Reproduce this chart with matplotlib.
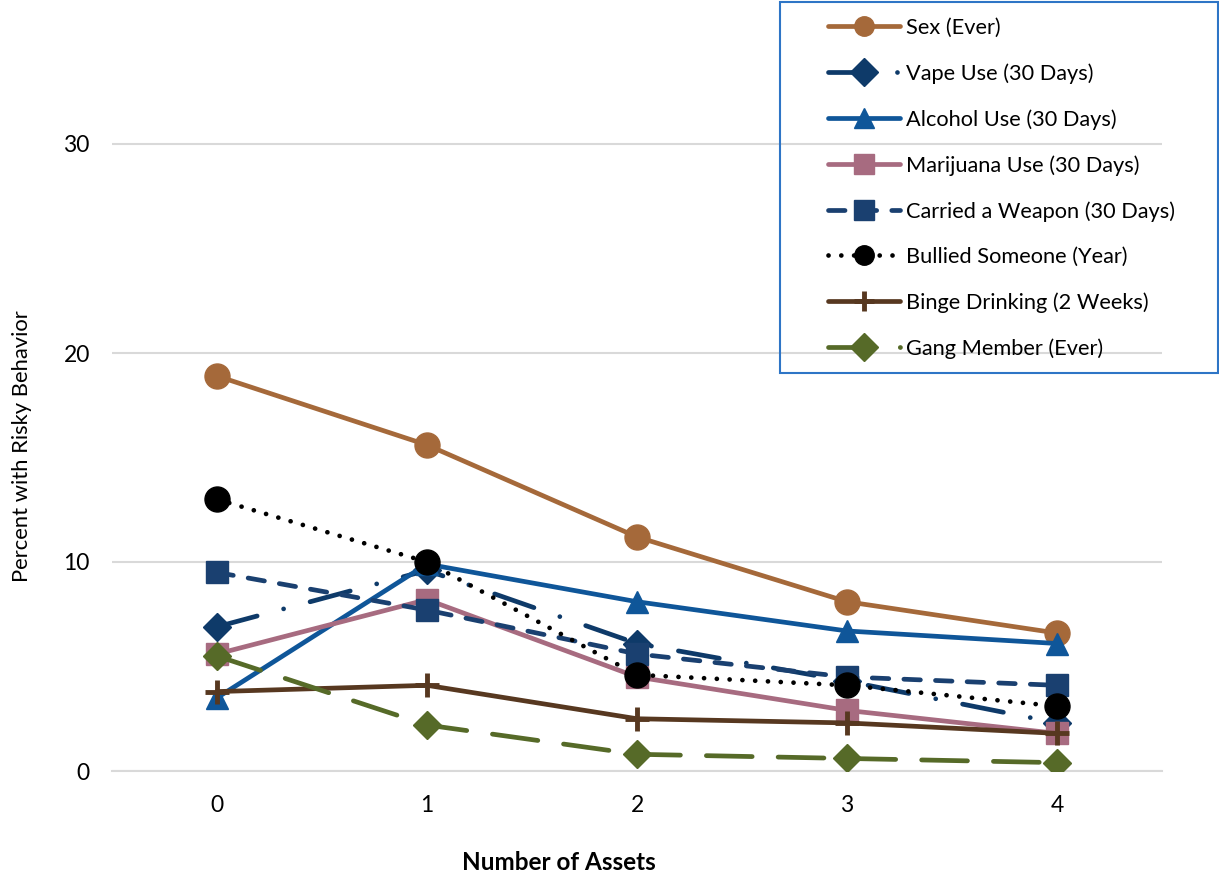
import matplotlib
matplotlib.use("Agg")
import matplotlib.pyplot as plt
from matplotlib.patches import Rectangle

plt.rcParams['font.family'] = ['Lato', 'DejaVu Sans']

assets = [0, 1, 2, 3, 4]
series_names = ["Sex (Ever)", "Vape Use (30 Days)", "Alcohol Use (30 Days)",
                "Marijuana Use (30 Days)", "Carried a Weapon (30 Days)",
                "Bullied Someone (Year)", "Binge Drinking (2 Weeks)", "Gang Member (Ever)"]
sex = [18.9, 15.6, 11.2, 8.1, 6.6]
vape = [6.9, 9.6, 6.1, 4.3, 2.3]
alcohol = [3.5, 9.9, 8.1, 6.7, 6.1]
marijuana = [5.6, 8.2, 4.5, 2.9, 1.8]
weapon = [9.5, 7.7, 5.6, 4.5, 4.1]
bullied = [13.0, 10.0, 4.6, 4.1, 3.1]
binge = [3.8, 4.1, 2.5, 2.3, 1.8]
gang = [5.5, 2.2, 0.8, 0.6, 0.4]
yticks = [0, 10, 20, 30]

values = [sex, vape, alcohol, marijuana, weapon, bullied, binge, gang]
colors = ["#A5693A", "#0E3A69", "#0F5699", "#A76B80", "#1A4070", "#000000", "#573820", "#566A28"]
markers = ["o", "D", "^", "s", "s", "o", "+", "D"]
msizes = [18, 14, 16, 16.5, 16.5, 18, 17, 14]
styles = [
    "-",
    (0, (8.8, 5.8, 0.01, 5.8)),
    "-",
    "-",
    (0, (3.5, 3.2)),
    (0, (0.01, 2.7)),
    "-",
    (0, (9.7, 5.5)),
]

fig = plt.figure(figsize=(12.19, 8.77), dpi=100)
ax = fig.add_axes([112/1219, (877-771)/877, (1162-112)/1219, (771-39.5)/877])

handles = []
for name, vals, c, m, ms, ls in zip(series_names, values, colors, markers, msizes, styles):
    mew = 3.5 if m == "+" else 1
    ln, = ax.plot(assets, vals, color=c, lw=3.4, linestyle=ls, marker=m, markersize=ms,
                  markeredgewidth=mew, markerfacecolor=c, markeredgecolor=c,
                  solid_capstyle="round", dash_capstyle="round", zorder=3)
    handles.append(ln)

ax.set_xlim(-0.5, 4.5)
ax.set_ylim(0, 35)
ax.set_yticks(yticks)
ax.set_xticks(assets)
ax.yaxis.grid(True, color="#D9D9D9", lw=1.5)
ax.set_axisbelow(True)
for s in ["top", "right", "left"]:
    ax.spines[s].set_visible(False)
ax.spines["bottom"].set_color("#D9D9D9")
ax.spines["bottom"].set_linewidth(1.5)
ax.tick_params(axis="both", length=0, labelsize=16.5, colors="#000000")
ax.tick_params(axis="x", pad=17)
ax.tick_params(axis="y", pad=16)

fig.text(559/1219, 1 - 862/877, "Number of Assets", ha="center", va="center",
         fontsize=17.5, fontweight="bold")
fig.text(22/1219, 1 - 446/877, "Percent with Risky Behavior", ha="center", va="center",
         rotation=90, fontsize=15.8)

# legend box
fig.patches.append(Rectangle((780/1219, 1 - 373/877), (1218-780)/1219, (373-2)/877,
                             transform=fig.transFigure, fill=False,
                             edgecolor="#2E75C6", lw=1.5, zorder=5))
leg = fig.legend(handles, series_names, loc="upper left",
                 bbox_to_anchor=(828/1219, 1 - 18/877), fontsize=15.7,
                 frameon=False, handlelength=3.3, borderpad=0,
                 labelspacing=1.16, handletextpad=0.3, borderaxespad=0)
for lh in leg.legend_handles:
    lh.set_markersize(14)

fig.savefig("out.png", dpi=100)
